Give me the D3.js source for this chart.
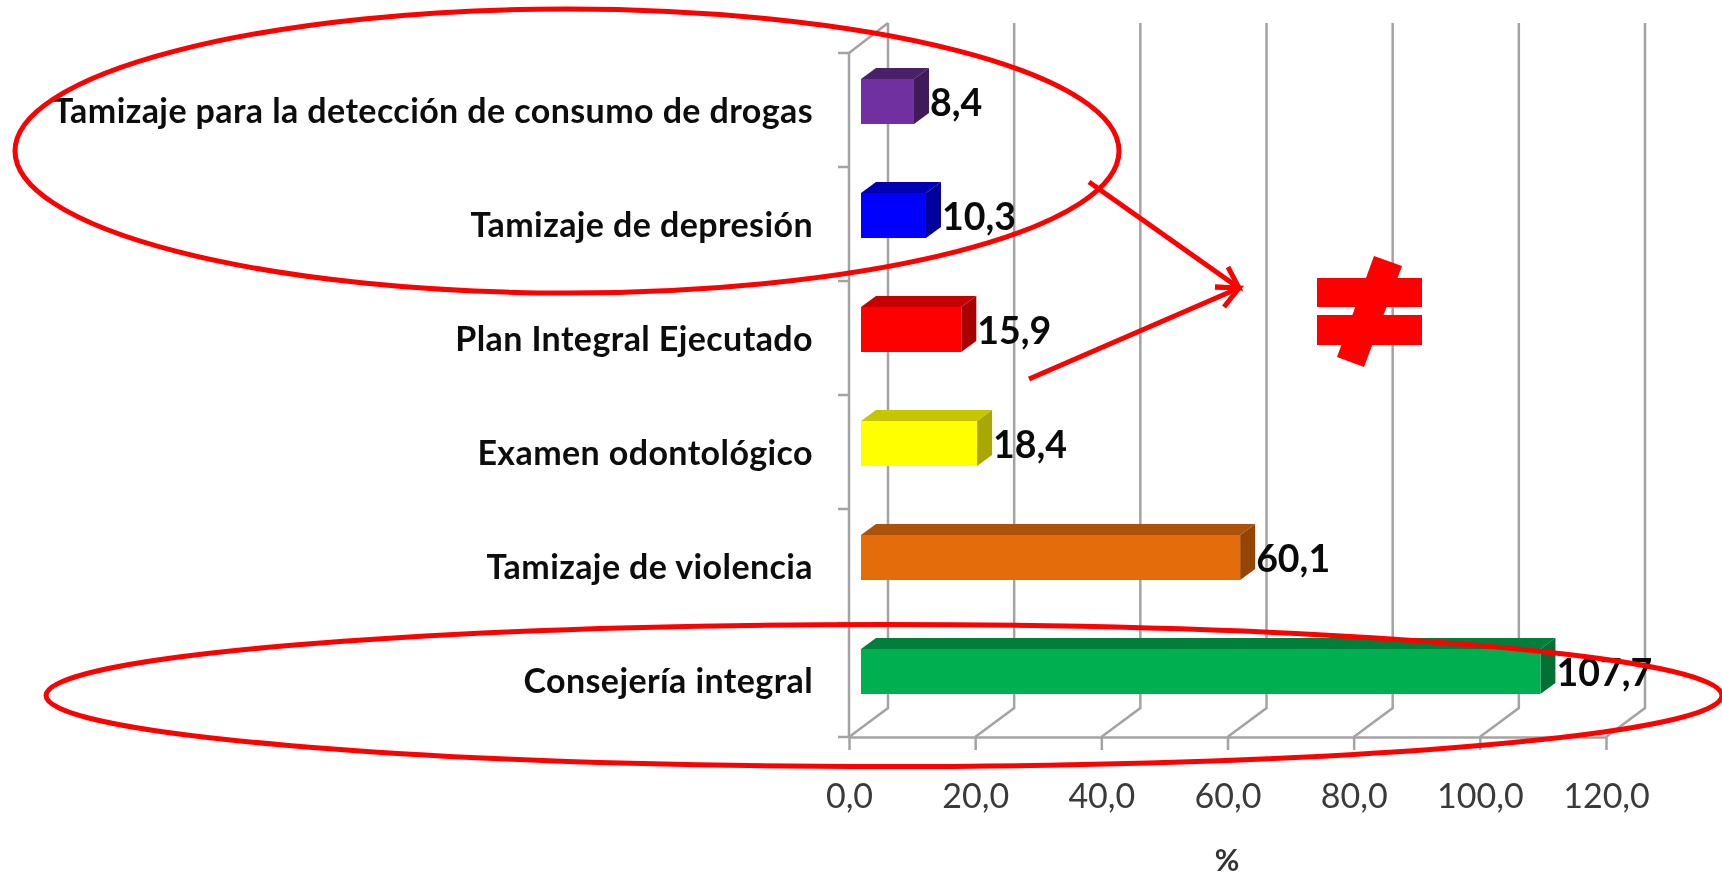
<!DOCTYPE html>
<html><head><meta charset="utf-8">
<script src="https://cdn.jsdelivr.net/npm/d3@7/dist/d3.min.js"></script>
<style>html,body{margin:0;padding:0;background:#fff}svg{display:block;filter:blur(0.45px)}text{font-family:Lato,"Open Sans",sans-serif}</style>
</head><body><svg id="c" width="1722" height="878"></svg>
<script>
const categories=["Tamizaje para la detección de consumo de drogas","Tamizaje de depresión","Plan Integral Ejecutado","Examen odontológico","Tamizaje de violencia","Consejería integral"];
const values=[8.4,10.3,15.9,18.4,60.1,107.7];
const valueLabels=["8,4","10,3","15,9","18,4","60,1","107,7"];
const frontColors=["#7030a0","#0000ff","#ff0000","#ffff00","#e46c0a","#00b050"];
const topColors=["#4a2069","#0000b4","#c60000","#c6c600","#ad520a","#007f3b"];
const sideColors=["#3f1b5a","#00009c","#a80000","#a8a800","#954607","#007035"];
const xTicks=[0,20,40,60,80,100,120];

const svg=d3.select("#c");
const x=d3.scaleLinear().domain([0,120]).range([849,1606]);
const y=d3.scaleBand().domain(categories).range([53,737]);
const depthX=39,depthY=29,barDX=15,barDY=11,barInset=12,barTop=26,barH=45;
const grid="#a3a3a3";

// walls
const g=svg.append("g").attr("stroke",grid).attr("stroke-width",2.5).attr("fill","none");
xTicks.forEach(t=>{
  g.append("path").attr("d",d3.line()([[x(t),y.range()[1]],[x(t)+depthX,y.range()[1]-depthY],[x(t)+depthX,y.range()[0]-depthY-1]]));
});
g.append("path").attr("d",d3.line()([[x(0),y.range()[0]],[x(0)+depthX,y.range()[0]-depthY-1]]));
g.append("line").attr("x1",x(0)).attr("x2",x(0)).attr("y1",y.range()[0]).attr("y2",y.range()[1]);
[...categories.map(c=>y(c)),y.range()[1]].forEach(v=>{
  g.append("line").attr("x1",x(0)-11).attr("x2",x(0)).attr("y1",v).attr("y2",v);
});

// x axis
const ax=svg.append("g").attr("transform",`translate(0,${y.range()[1]})`)
 .call(d3.axisBottom(x).tickValues(xTicks).tickSize(13).tickSizeOuter(0).tickFormat(d=>d3.format(".1f")(d).replace(".",",")));
ax.select(".domain").attr("stroke",grid).attr("stroke-width",2.5);
ax.selectAll(".tick line").attr("stroke",grid).attr("stroke-width",2.5);
ax.selectAll(".tick text").attr("fill","#3a3a3a").attr("font-size",34).style("font-family","Lato").attr("dy",null).attr("y",71).attr("text-anchor","middle");

// bars
const bars=svg.append("g").selectAll("g").data(categories).join("g");
bars.each(function(c,i){
  const s=d3.select(this),x0=x(0)+barInset,x1=x0+x(values[i])-x(0),t=y(c)+barTop,b=t+barH;
  s.append("path").attr("fill",topColors[i]).attr("d",d3.line()([[x0,t],[x1,t],[x1+barDX,t-barDY],[x0+barDX,t-barDY]])+"Z");
  s.append("path").attr("fill",sideColors[i]).attr("d",d3.line()([[x1,t],[x1,b],[x1+barDX,b-barDY],[x1+barDX,t-barDY]])+"Z");
  s.append("rect").attr("fill",frontColors[i]).attr("x",x0).attr("y",t).attr("width",x1-x0).attr("height",barH);
  s.append("text").text(valueLabels[i]).attr("x",x1+barDX+1).attr("y",b-8).attr("font-weight",700).attr("font-size",37.5).attr("fill","#0a0a0a");
  svg.append("text").text(c).attr("x",813).attr("y",t+44).attr("text-anchor","end").attr("font-weight",700).attr("font-size",34).attr("letter-spacing",0.4).attr("fill","#0d0d0d");
});

svg.append("text").text("%").attr("x",1227).attr("y",871).attr("text-anchor","middle").attr("font-weight",700).attr("font-size",30).attr("fill","#333");

// annotations
const red="#ff0000",an=svg.append("g");
an.append("ellipse").attr("cx",567).attr("cy",151).attr("rx",552).attr("ry",142).attr("fill","none").attr("stroke",red).attr("stroke-width",5);
an.append("ellipse").attr("cx",884).attr("cy",695.5).attr("rx",838).attr("ry",71).attr("fill","none").attr("stroke",red).attr("stroke-width",5);
const line=d3.line();
[[[1089,182],[1239,288]],[[1029,379],[1239,288]],[[1228,267],[1239,288],[1215,287]],[[1215,287],[1239,288],[1224,307]]].forEach(p=>{
  an.append("path").attr("d",line(p)).attr("fill","none").attr("stroke",red).attr("stroke-width",5);
});
an.append("rect").attr("x",1317).attr("y",278).attr("width",105).attr("height",29).attr("fill",red);
an.append("rect").attr("x",1317).attr("y",315).attr("width",105).attr("height",30).attr("fill",red);
an.append("path").attr("d",line([[1374,256],[1402,266],[1364,367],[1337,357]])+"Z").attr("fill",red);
</script></body></html>
